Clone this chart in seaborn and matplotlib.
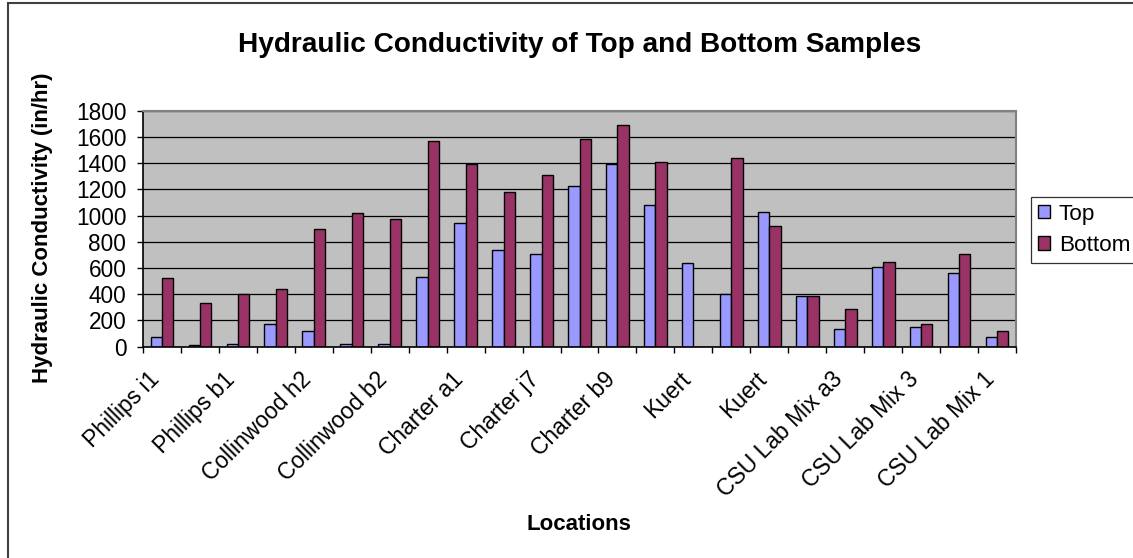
import matplotlib
matplotlib.use("Agg")
import matplotlib.pyplot as plt
from matplotlib.patches import Rectangle, Patch
from matplotlib.transforms import ScaledTranslation
import seaborn as sns
import pandas as pd

categories = [f"S{i:02d}" for i in range(1, 24)]
tick_labels = ["Phillips i1", "Phillips b1", "Collinwood h2", "Collinwood b2",
               "Charter a1", "Charter j7", "Charter b9", "Kuert", "Kuert",
               "CSU Lab Mix a3", "CSU Lab Mix 3", "CSU Lab Mix 1"]
top_values = [71, 10, 20, 170, 117, 20, 20, 529, 940, 735, 704, 1223,
              1396, 1083, 638, 399, 1027, 389, 137, 605, 150, 564, 74]
bottom_values = [526, 335, 399, 442, 897, 1017, 974, 1571, 1396, 1180, 1309, 1581,
                 1690, 1408, 0, 1439, 920, 389, 290, 648, 170, 704, 117]
series = ["Top", "Bottom"]
colors = ["#9999FF", "#993366"]

df = pd.DataFrame({
    "sample": categories * 2,
    "position": ["Top"] * len(categories) + ["Bottom"] * len(categories),
    "value": top_values + bottom_values,
})

sns.set_style("white")
plt.rcParams["font.family"] = ["Liberation Sans", "DejaVu Sans"]
plt.rcParams["text.color"] = "black"
plt.rcParams["xtick.color"] = "black"
plt.rcParams["ytick.color"] = "black"
plt.rcParams["axes.labelcolor"] = "black"

W, H = 1133, 558
fig = plt.figure(figsize=(W / 100, H / 100), dpi=100)
fig.patch.set_facecolor("white")
ax = fig.add_axes([143 / W, 1 - 346.7 / H, (1016 - 143) / W, (346.7 - 110.7) / H])
ax.set_facecolor("#C0C0C0")

sns.barplot(data=df, x="sample", y="value", hue="position", order=categories,
            hue_order=series, palette=colors, saturation=1, width=0.6, gap=0,
            edgecolor="black", linewidth=1, errorbar=None, legend=False, ax=ax)

ax.set_xlim(-0.5, len(categories) - 0.5)
ax.set_ylim(0, 1800)
ax.set_yticks(range(0, 1801, 200))
ax.yaxis.grid(True, color="black", linewidth=0.9)
ax.set_axisbelow(True)

ax.set_xticks([i - 0.5 for i in range(len(categories) + 1)], minor=False)
ax.set_xticklabels([])
ax.set_xticks(list(range(0, len(categories), 2)), minor=True)
ax.set_xticklabels(tick_labels, minor=True, rotation=45, ha="right", va="center",
                   rotation_mode="anchor", fontsize=16.5)
ax.tick_params(axis="x", which="major", direction="out", length=4.5, width=1,
               color="black", bottom=True)
ax.tick_params(axis="x", which="minor", length=0, pad=21)
ax.tick_params(axis="y", direction="out", length=4.5, width=1, color="black",
               labelsize=16.3, left=True, pad=7.5)
shift = ScaledTranslation(-6 / 100, 0, fig.dpi_scale_trans)
for lab in ax.get_xticklabels(minor=True):
    lab.set_transform(lab.get_transform() + shift)

for s in ["left", "bottom"]:
    ax.spines[s].set_color("black")
    ax.spines[s].set_linewidth(1.2)
for s in ["top", "right"]:
    ax.spines[s].set_color("#808080")
    ax.spines[s].set_linewidth(1.5)
ax.set_xlabel("")
ax.set_ylabel("")

fig.text(580 / W, 1 - 52 / H, "Hydraulic Conductivity of Top and Bottom Samples",
         ha="center", va="baseline", fontsize=20.2, fontweight="bold")
fig.text(43 / W, 1 - 228 / H, "Hydraulic Conductivity (in/hr)", rotation=90,
         ha="center", va="center", fontsize=16, fontweight="bold")
fig.text(579 / W, 1 - 525 / H, "Locations", ha="center", va="center",
         fontsize=16, fontweight="bold")

handles = [Patch(facecolor=c, edgecolor="black", linewidth=1) for c in colors]
leg = fig.legend(handles, series, loc="upper left",
                 bbox_to_anchor=(1031 / W, 1 - 197 / H), fontsize=16.2,
                 frameon=True, fancybox=False, handlelength=0.53, handleheight=0.53,
                 handletextpad=0.4, borderpad=0.3, labelspacing=0.45,
                 borderaxespad=0)
leg.get_frame().set_edgecolor("black")
leg.get_frame().set_linewidth(0.9)

fig.patches.append(Rectangle((8 / W, -0.1), 2, 1.1 - 3 / H, transform=fig.transFigure,
                             fill=False, edgecolor="#404040", linewidth=1.5))

fig.savefig("out.png", dpi=100)
